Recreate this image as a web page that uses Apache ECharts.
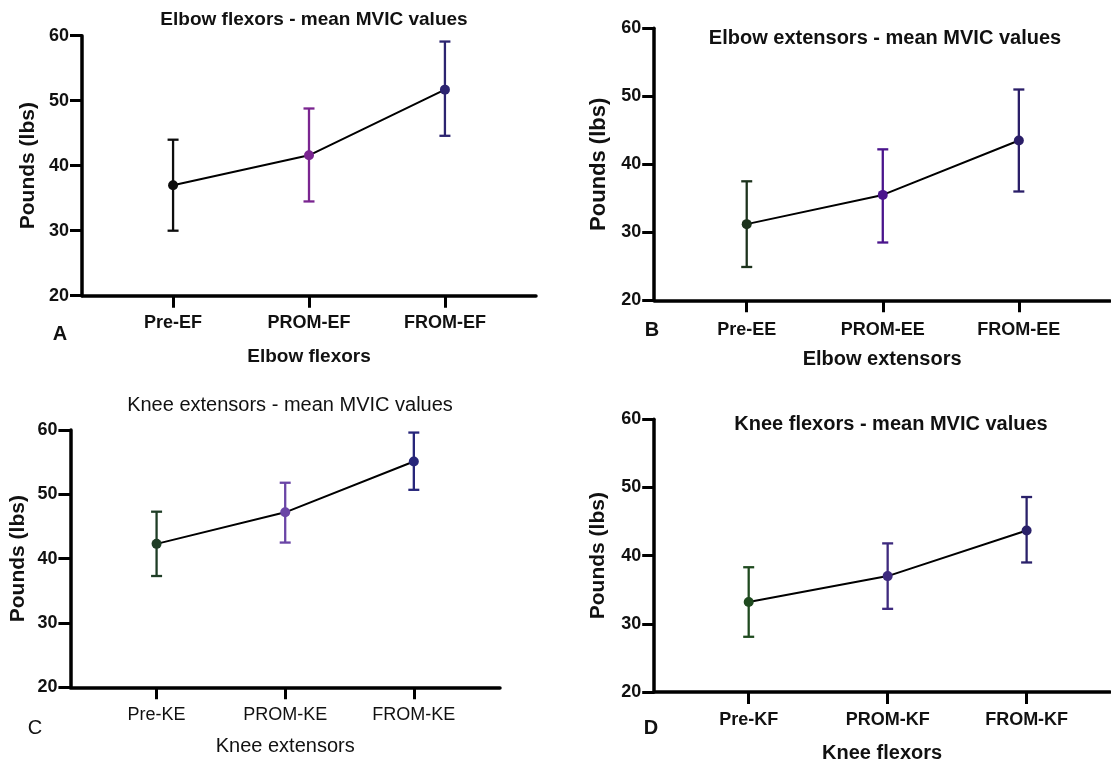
<!DOCTYPE html>
<html>
<head>
<meta charset="utf-8">
<script src="https://cdn.jsdelivr.net/npm/echarts@6/dist/echarts.min.js"></script>
<style>html,body{margin:0;padding:0;background:#fff;}#c{width:1111px;height:764px;}</style>
</head>
<body>
<div id="c"></div>
<script>
// ---- data ----
const catsA = ['Pre-EF', 'PROM-EF', 'FROM-EF'];
const meanA = [37.0, 41.6, 51.7];
const lowA  = [30.0, 34.5, 44.6];
const highA = [44.0, 48.8, 59.1];

const catsB = ['Pre-EE', 'PROM-EE', 'FROM-EE'];
const meanB = [31.2, 35.5, 43.5];
const lowB  = [24.9, 28.5, 36.0];
const highB = [37.5, 42.2, 51.0];

const catsC = ['Pre-KE', 'PROM-KE', 'FROM-KE'];
const meanC = [42.3, 47.2, 55.1];
const lowC  = [37.3, 42.5, 50.7];
const highC = [47.3, 51.8, 59.6];

const catsD = ['Pre-KF', 'PROM-KF', 'FROM-KF'];
const meanD = [33.2, 37.0, 43.7];
const lowD  = [28.1, 32.2, 39.0];
const highD = [38.3, 41.8, 48.6];

const titles = ['Elbow flexors - mean MVIC values', 'Elbow extensors - mean MVIC values',
                'Knee extensors - mean MVIC values', 'Knee flexors - mean MVIC values'];
const xNames = ['Elbow flexors', 'Elbow extensors', 'Knee extensors', 'Knee flexors'];
const yName = 'Pounds (lbs)';
const panelLetters = ['A', 'B', 'C', 'D'];
const yTicks = { min: 20, max: 60, interval: 10 };

// ---- styles ----
const colorsA = ['#0d0d0d', '#7a2590', '#2c2470'];
const colorsB = ['#1d331d', '#4a148c', '#2a1e68'];
const colorsC = ['#1f3d26', '#6a45a6', '#27267a'];
const colorsD = ['#1f4a1f', '#3e2a7e', '#2a216a'];
const FONT = '"Liberation Sans", Arial, sans-serif';

const panels = [
  { cats: catsA, mean: meanA, low: lowA, high: highA, colors: colorsA,
    grid: { left: 82, top: 35.7, width: 454, height: 260 }, xmin: -0.67, xmax: 2.67,
    title: { x: 309, y: 5, size: 19, weight: 'bold' }, xLabel: { size: 18, weight: 'bold', margin: 18.5 },
    xName: { size: 19, weight: 'bold', gap: 52 }, yName: { size: 21, gap: 43 }, letter: { x: 60, y: 334, weight: 'bold' } },
  { cats: catsB, mean: meanB, low: lowB, high: highB, colors: colorsB,
    grid: { left: 654.2, top: 28.3, width: 455.8, height: 272 }, xmin: -0.68, xmax: 2.67,
    title: { x: 880, y: 23, size: 20, weight: 'bold' }, xLabel: { size: 18, weight: 'bold', margin: 20.5 },
    xName: { size: 20, weight: 'bold', gap: 49 }, yName: { size: 22, gap: 44 }, letter: { x: 652, y: 330, weight: 'bold' } },
  { cats: catsC, mean: meanC, low: lowC, high: highC, colors: colorsC,
    grid: { left: 70.4, top: 430, width: 429.6, height: 257.3 }, xmin: -0.67, xmax: 2.67,
    title: { x: 285, y: 390, size: 20, weight: 'normal' }, xLabel: { size: 18, weight: 'normal', margin: 18.5 },
    xName: { size: 20, weight: 'normal', gap: 49 }, yName: { size: 21, gap: 42 }, letter: { x: 35, y: 728, weight: 'normal' } },
  { cats: catsD, mean: meanD, low: lowD, high: highD, colors: colorsD,
    grid: { left: 654.2, top: 419.3, width: 455.8, height: 273 }, xmin: -0.68, xmax: 2.6,
    title: { x: 886, y: 409, size: 20, weight: 'bold' }, xLabel: { size: 18, weight: 'bold', margin: 19.5 },
    xName: { size: 20, weight: 'bold', gap: 51 }, yName: { size: 21, gap: 45 }, letter: { x: 651, y: 728, weight: 'bold' } }
];

const option = {
  backgroundColor: '#ffffff',
  animation: false,
  title: [], grid: [], xAxis: [], yAxis: [], series: [],
  graphic: []
};

function errRender(params, api) {
  const x = api.value(0);
  const pLo = api.coord([x, api.value(1)]);
  const pHi = api.coord([x, api.value(2)]);
  const hw = 5.5;
  const style = { stroke: api.visual('color'), lineWidth: 2.3 };
  return {
    type: 'group',
    children: [
      { type: 'line', shape: { x1: pLo[0], y1: pLo[1], x2: pHi[0], y2: pHi[1] }, style },
      { type: 'line', shape: { x1: pLo[0] - hw, y1: pLo[1], x2: pLo[0] + hw, y2: pLo[1] }, style },
      { type: 'line', shape: { x1: pHi[0] - hw, y1: pHi[1], x2: pHi[0] + hw, y2: pHi[1] }, style }
    ]
  };
}

panels.forEach((p, i) => {
  option.title.push({
    text: titles[i], left: p.title.x, top: p.title.y, textAlign: 'center',
    textStyle: { fontFamily: FONT, fontSize: p.title.size, fontWeight: p.title.weight, color: '#111' }
  });
  option.grid.push(Object.assign({ containLabel: false }, p.grid));
  const cats = p.cats;
  option.xAxis.push({
    type: 'value', gridIndex: i, min: p.xmin, max: p.xmax,
    name: xNames[i], nameLocation: 'middle', nameGap: p.xName.gap,
    nameTextStyle: { fontFamily: FONT, fontSize: p.xName.size, fontWeight: p.xName.weight, color: '#111' },
    axisLine: { show: true, onZero: false, lineStyle: { color: '#000', width: 3.5 } },
    axisTick: { show: true, customValues: [0, 1, 2], length: 12, lineStyle: { color: '#000', width: 3 } },
    axisLabel: { customValues: [0, 1, 2], margin: p.xLabel.margin, formatter: v => cats[Math.round(v)] || '',
      fontFamily: FONT, fontSize: p.xLabel.size, fontWeight: p.xLabel.weight, color: '#111' },
    splitLine: { show: false }
  });
  option.yAxis.push({
    type: 'value', gridIndex: i, min: yTicks.min, max: yTicks.max, interval: yTicks.interval,
    name: yName, nameLocation: 'middle', nameGap: p.yName.gap,
    nameTextStyle: { fontFamily: FONT, fontSize: p.yName.size, fontWeight: 'bold', color: '#111' },
    axisLine: { show: true, onZero: false, lineStyle: { color: '#000', width: 3.5 } },
    axisTick: { show: true, length: 12, lineStyle: { color: '#000', width: 3 } },
    axisLabel: { margin: 13, fontFamily: FONT, fontSize: 18, fontWeight: 'bold', color: '#111' },
    splitLine: { show: false }
  });
  option.series.push({
    type: 'custom', xAxisIndex: i, yAxisIndex: i, renderItem: errRender, z: 2,
    encode: { x: 0, y: [1, 2] },
    data: cats.map((c, k) => ({ value: [k, p.low[k], p.high[k]], itemStyle: { color: p.colors[k] } }))
  });
  option.series.push({
    type: 'line', xAxisIndex: i, yAxisIndex: i, z: 3,
    symbol: 'circle', symbolSize: 10,
    lineStyle: { color: '#000', width: 2 },
    data: cats.map((c, k) => ({ value: [k, p.mean[k]], itemStyle: { color: p.colors[k] } }))
  });
  option.graphic.push({
    type: 'text', x: p.letter.x, y: p.letter.y,
    style: { text: panelLetters[i], font: p.letter.weight + ' 20px ' + FONT, fill: '#111',
      textAlign: 'center', textVerticalAlign: 'middle' }
  });
});

const chart = echarts.init(document.getElementById('c'), null, { renderer: 'canvas' });
chart.setOption(option);
</script>
</body>
</html>
